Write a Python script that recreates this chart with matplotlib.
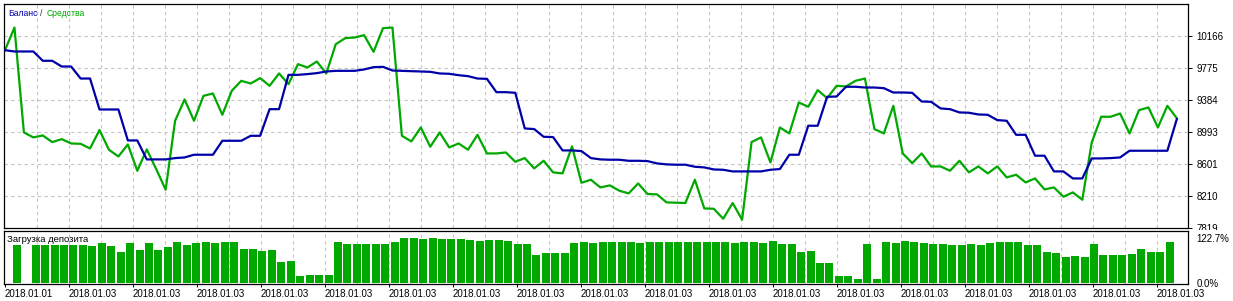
import matplotlib
matplotlib.use('Agg')
import matplotlib.pyplot as plt
import numpy as np
from matplotlib.transforms import Bbox, TransformedBbox

plt.rcParams['font.family'] = ['Liberation Sans', 'DejaVu Sans']

# данные: баланс и средства по сделкам
balance = [9992, 9976, 9976, 9976, 9862, 9862, 9792, 9792, 9645, 9645,
           9266, 9266, 9266, 8887, 8887, 8655, 8655, 8655, 8671, 8679,
           8712, 8712, 8712, 8883, 8883, 8883, 8944, 8944, 9270, 9270,
           9690, 9690, 9699, 9711, 9731, 9739, 9739, 9739, 9756, 9784,
           9788, 9743, 9739, 9735, 9731, 9727, 9707, 9703, 9686, 9674,
           9645, 9641, 9478, 9478, 9470, 9034, 9026, 8932, 8928, 8765,
           8765, 8757, 8671, 8655, 8651, 8651, 8638, 8638, 8634, 8606,
           8594, 8590, 8590, 8565, 8557, 8532, 8528, 8508, 8508, 8508,
           8508, 8528, 8537, 8712, 8712, 9067, 9067, 9421, 9425, 9544,
           9544, 9535, 9535, 9527, 9474, 9474, 9470, 9364, 9360, 9279,
           9270, 9230, 9226, 9205, 9201, 9136, 9128, 8956, 8956, 8700,
           8700, 8508, 8508, 8422, 8422, 8667, 8667, 8671, 8679, 8761,
           8761, 8761, 8761, 8761, 9148]

equity = [9992, 10269, 8985, 8924, 8948, 8867, 8903, 8850, 8846, 8789,
          9014, 8773, 8691, 8838, 8516, 8777, 8537, 8284, 9128, 9389,
          9128, 9433, 9462, 9201, 9495, 9617, 9584, 9650, 9556, 9707,
          9576, 9821, 9780, 9853, 9707, 10065, 10139, 10147, 10176, 9972,
          10261, 10269, 8944, 8875, 9046, 8810, 8985, 8802, 8850, 8773,
          8956, 8728, 8728, 8740, 8626, 8671, 8545, 8638, 8496, 8484,
          8814, 8369, 8406, 8312, 8337, 8272, 8239, 8361, 8231, 8227,
          8129, 8125, 8121, 8406, 8055, 8051, 7929, 8121, 7917, 8867,
          8924, 8618, 9046, 8973, 9352, 9299, 9503, 9405, 9556, 9548,
          9617, 9645, 9026, 8973, 9311, 8728, 8610, 8728, 8569, 8569,
          8516, 8638, 8496, 8569, 8484, 8569, 8435, 8467, 8373, 8422,
          8288, 8312, 8198, 8251, 8161, 8863, 9177, 9177, 9217, 8973,
          9258, 9291, 9046, 9311, 9160]

# загрузка депозита, %
load = [103.1, 0, 103.1, 103.1, 103.1, 103.1, 103.1, 103.1, 100.5, 108.5,
        100.5, 82.7, 108.5, 88.0, 108.5, 88.0, 97.8, 112.0, 103.1, 108.5,
        112.0, 106.7, 109.4, 112.0, 92.5, 92.5, 85.4, 88.0, 56.0, 58.7,
        17.8, 21.3, 21.3, 21.3, 109.4, 105.8, 105.8, 105.8, 105.8, 105.8,
        109.4, 121.8, 121.8, 119.0, 121.8, 119.0, 119.0, 119.0, 116.5, 113.8,
        116.5, 116.5, 113.8, 105.8, 105.8, 76.5, 81.8, 81.8, 81.8, 108.5,
        111.1, 108.5, 111.1, 111.1, 111.1, 111.1, 108.5, 111.1, 111.1, 111.1,
        111.1, 111.1, 111.1, 111.1, 111.1, 111.1, 108.5, 111.1, 111.1, 108.5,
        113.8, 105.8, 105.8, 84.5, 87.0, 52.5, 52.5, 17.8, 17.8, 9.8,
        105.8, 9.8, 111.1, 108.5, 113.8, 111.1, 108.5, 105.8, 105.8, 103.1,
        103.1, 105.8, 103.1, 108.5, 111.1, 111.1, 111.1, 103.1, 103.1, 84.5,
        81.8, 71.1, 73.8, 71.1, 105.8, 76.5, 76.5, 76.5, 79.1, 92.5,
        84.5, 84.5, 111.1]

y_ticks = [7819, 8210, 8601, 8993, 9384, 9775, 10166]
y_labels = ['7819', '8210', '8601', '8993', '9384', '9775', '10166']
load_ticks = [0.0, 122.7]
load_labels = ['0.0%', '122.7%']
date_labels = ['2018.01.01'] + ['2018.01.03'] * 18

blue = '#0000a8'
green = '#00a800'
grid_col = '#c4c4c4'
fs = 7

W, H = 1233, 301
fig = plt.figure(figsize=(W / 100, H / 100), dpi=100)
ax = fig.add_axes([4 / W, 1 - 228 / H, 1184 / W, 224 / H])
ax2 = fig.add_axes([4 / W, 1 - 283.5 / H, 1184 / W, 53 / H])

px = 9.45  # пикселей на одну сделку
xlim = (-1 / px, 1183 / px)
grid_x = np.arange(1, 37) * 32 / px
date_x = np.arange(len(date_labels)) * 64 / px

# ---------- верхняя панель ----------
x = np.arange(len(balance))
ax.plot(x, balance, color=blue, lw=1.6, zorder=3)
ax.plot(x, equity, color=green, lw=1.6, zorder=2)
ax.set_xlim(*xlim)
ax.set_ylim(7819 - 391.17 / 32 * 0.3, 7819 + 391.17 / 32 * 224)
for gx in grid_x:
    ax.axvline(gx, color=grid_col, lw=0.8, ls=(0, (3, 3)), zorder=0)
for gy in y_ticks[1:]:
    ax.axhline(gy, color=grid_col, lw=0.8, ls=(0, (3, 3)), zorder=0)
ax.yaxis.tick_right()
ax.set_yticks(y_ticks)
ax.set_yticklabels(y_labels, fontsize=fs)
ax.tick_params(axis='y', length=3, width=0.7, pad=3)
ax.set_xticks([])
for s in ax.spines.values():
    s.set_linewidth(0.9)

# надпись 7819 обрезается нижней панелью
clip = TransformedBbox(Bbox([[0, 1 - 229.5 / H], [1, 1]]), fig.transFigure)
for lab in ax.get_yticklabels():
    lab.set_clip_box(clip)
    lab.set_clip_on(True)

ty = 1 - 9.5 / 224
ax.text(4 / 1184, ty, 'Баланс', color=blue, fontsize=6.2,
        transform=ax.transAxes, va='center', ha='left')
ax.text(35.5 / 1184, ty, '/', color='#333333', fontsize=6.2,
        transform=ax.transAxes, va='center', ha='left')
ax.text(43 / 1184, ty, 'Средства', color=green, fontsize=6.2,
        transform=ax.transAxes, va='center', ha='left')

# ---------- нижняя панель: загрузка депозита ----------
bx = np.arange(1, len(load) + 1) + 0.24
ax2.bar(bx, load, width=0.85, color=green, zorder=2)
ax2.set_xlim(*xlim)
ax2.set_ylim(-2.2, 142)
for gx in grid_x:
    ax2.axvline(gx, color=grid_col, lw=0.8, ls=(0, (3, 3)), zorder=0)
ax2.yaxis.tick_right()
ax2.set_yticks(load_ticks)
ax2.set_yticklabels(load_labels, fontsize=fs)
ax2.tick_params(axis='y', length=0, pad=6)
ax2.set_xticks(date_x)
ax2.set_xticklabels(date_labels, fontsize=fs, ha='left')
ax2.tick_params(axis='x', length=2.5, width=0.7, pad=1.5)
for s in ax2.spines.values():
    s.set_linewidth(0.9)
ax2.text(3 / 1184, 1 - 9 / 53, 'Загрузка депозита', fontsize=6.8,
         transform=ax2.transAxes, va='center', ha='left', zorder=5)

plt.savefig('out.png', dpi=100)
